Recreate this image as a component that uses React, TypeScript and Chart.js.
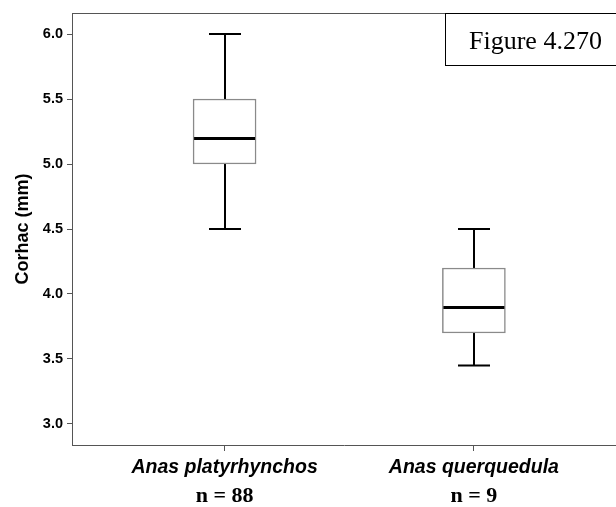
import React, { useEffect, useRef } from "react";
import { Chart, registerables } from "chart.js";
Chart.register(...registerables);

const species = ["Anas platyrhynchos", "Anas querquedula"];
const sampleSizes = ["n = 88", "n = 9"];
const whiskerLow = [4.5, 3.45];
const q1 = [5.0, 3.7];
const medians = [5.2, 3.9];
const q3 = [5.5, 4.2];
const whiskerHigh = [6.0, 4.5];
const yTicks = [3.0, 3.5, 4.0, 4.5, 5.0, 5.5, 6.0];
const figureLabel = "Figure 4.270";
const yTitle = "Corhac (mm)";

const SANS = "'Liberation Sans', Arial, sans-serif";
const SERIF = "'Liberation Serif', 'Times New Roman', serif";
const AXIS = "#555555";
const BOX_W = 63;

const boxPlugin = {
  id: "boxExtras",
  beforeDatasetsDraw(chart: any) {
    const { ctx, scales } = chart;
    const x = scales.x;
    const y = scales.y;
    ctx.save();
    ctx.strokeStyle = "#000";
    ctx.lineWidth = 2;
    species.forEach((_, i) => {
      const cx = Math.round(x.getPixelForValue(i + 1));
      const yHi = y.getPixelForValue(whiskerHigh[i]);
      const yLo = y.getPixelForValue(whiskerLow[i]);
      const yQ1 = y.getPixelForValue(q1[i]);
      const yQ3 = y.getPixelForValue(q3[i]);
      ctx.beginPath();
      ctx.moveTo(cx, yHi);
      ctx.lineTo(cx, yQ3);
      ctx.moveTo(cx, yQ1);
      ctx.lineTo(cx, yLo);
      ctx.moveTo(cx - 16, yHi);
      ctx.lineTo(cx + 16, yHi);
      ctx.moveTo(cx - 16, yLo);
      ctx.lineTo(cx + 16, yLo);
      ctx.stroke();
    });
    ctx.restore();
  },
  afterDatasetsDraw(chart: any) {
    const { ctx, scales, chartArea } = chart;
    const x = scales.x;
    const y = scales.y;
    ctx.save();
    ctx.strokeStyle = "#000";
    ctx.lineWidth = 3;
    species.forEach((_, i) => {
      const cx = x.getPixelForValue(i + 1);
      const ym = Math.round(y.getPixelForValue(medians[i])) + 0.5;
      ctx.beginPath();
      ctx.moveTo(cx - BOX_W / 2 + 1, ym);
      ctx.lineTo(cx + BOX_W / 2 - 1, ym);
      ctx.stroke();
    });
    // top frame line
    ctx.strokeStyle = AXIS;
    ctx.lineWidth = 1;
    ctx.beginPath();
    ctx.moveTo(chartArea.left, Math.round(chartArea.top) + 0.5);
    ctx.lineTo(chartArea.right, Math.round(chartArea.top) + 0.5);
    ctx.stroke();
    // sample size labels
    ctx.fillStyle = "#000";
    ctx.font = `bold 22px ${SERIF}`;
    ctx.textAlign = "center";
    ctx.textBaseline = "middle";
    species.forEach((_, i) => {
      const cx = x.getPixelForValue(i + 1);
      ctx.fillText(sampleSizes[i], cx, chartArea.bottom + 51);
    });
    // figure label box
    const bx = 445.5;
    const by = Math.round(chartArea.top) + 0.5;
    ctx.fillStyle = "#fff";
    ctx.fillRect(bx, by, 200, 52);
    ctx.strokeStyle = "#000";
    ctx.strokeRect(bx, by, 200, 52);
    ctx.fillStyle = "#000";
    ctx.font = `26px ${SERIF}`;
    ctx.textAlign = "left";
    ctx.textBaseline = "alphabetic";
    ctx.fillText(figureLabel, 469, 49);
    ctx.restore();
  },
};

export default function App() {
  const ref = useRef<HTMLCanvasElement | null>(null);
  useEffect(() => {
    if (!ref.current) return;
    const chart = new Chart(ref.current, {
      type: "bar",
      data: {
        datasets: [
          {
            data: species.map((_, i) => ({ x: i + 1, y: [q1[i], q3[i]] })) as any,
            backgroundColor: "#ffffff",
            borderColor: "#8a8a8a",
            borderWidth: 1.5,
            borderSkipped: false,
            barThickness: BOX_W,
          } as any,
        ],
      },
      plugins: [boxPlugin],
      options: {
        responsive: false,
        animation: false,
        devicePixelRatio: 1,
        layout: { padding: { top: 13, right: 0, left: 0, bottom: 0 } },
        plugins: {
          legend: { display: false },
          tooltip: { enabled: false },
        },
        scales: {
          x: {
            type: "linear",
            offset: false,
            min: 0.388,
            max: 2.57,
            afterBuildTicks: (scale: any) => {
              scale.ticks = species.map((_, i) => ({ value: i + 1 }));
            },
            afterFit: (scale: any) => {
              scale.height = 62;
            },
            ticks: {
              callback: (v: any) => species[Number(v) - 1] ?? "",
              color: "#000",
              font: { family: SANS, size: 19.5, weight: "bold", style: "italic" },
              padding: 5,
              maxRotation: 0,
              autoSkip: false,
            },
            grid: {
              offset: false,
              drawOnChartArea: false,
              drawTicks: true,
              tickLength: 6,
              tickColor: AXIS,
            },
            border: { color: AXIS, width: 1 },
          },
          y: {
            min: 2.838,
            max: 6.162,
            afterBuildTicks: (scale: any) => {
              scale.ticks = yTicks.map((v) => ({ value: v }));
            },
            afterFit: (scale: any) => {
              scale.width = 72;
            },
            ticks: {
              callback: (v: any) => Number(v).toFixed(1),
              color: "#000",
              font: { family: SANS, size: 14.5, weight: "bold" },
              padding: 4,
            },
            grid: {
              drawOnChartArea: false,
              drawTicks: true,
              tickLength: 5,
              tickColor: AXIS,
            },
            border: { color: AXIS, width: 1 },
            title: {
              display: true,
              text: yTitle,
              color: "#000",
              font: { family: SANS, size: 18, weight: "bold" },
              padding: { top: 12, bottom: 0 },
            },
          },
        },
      },
    } as any);
    return () => chart.destroy();
  }, []);
  return (
    <div style={{ position: "fixed", left: 0, top: 0, width: 616, height: 507, background: "#fff", overflow: "hidden" }}>
      <canvas ref={ref} width={616} height={507} style={{ display: "block", width: 616, height: 507 }} />
    </div>
  );
}
